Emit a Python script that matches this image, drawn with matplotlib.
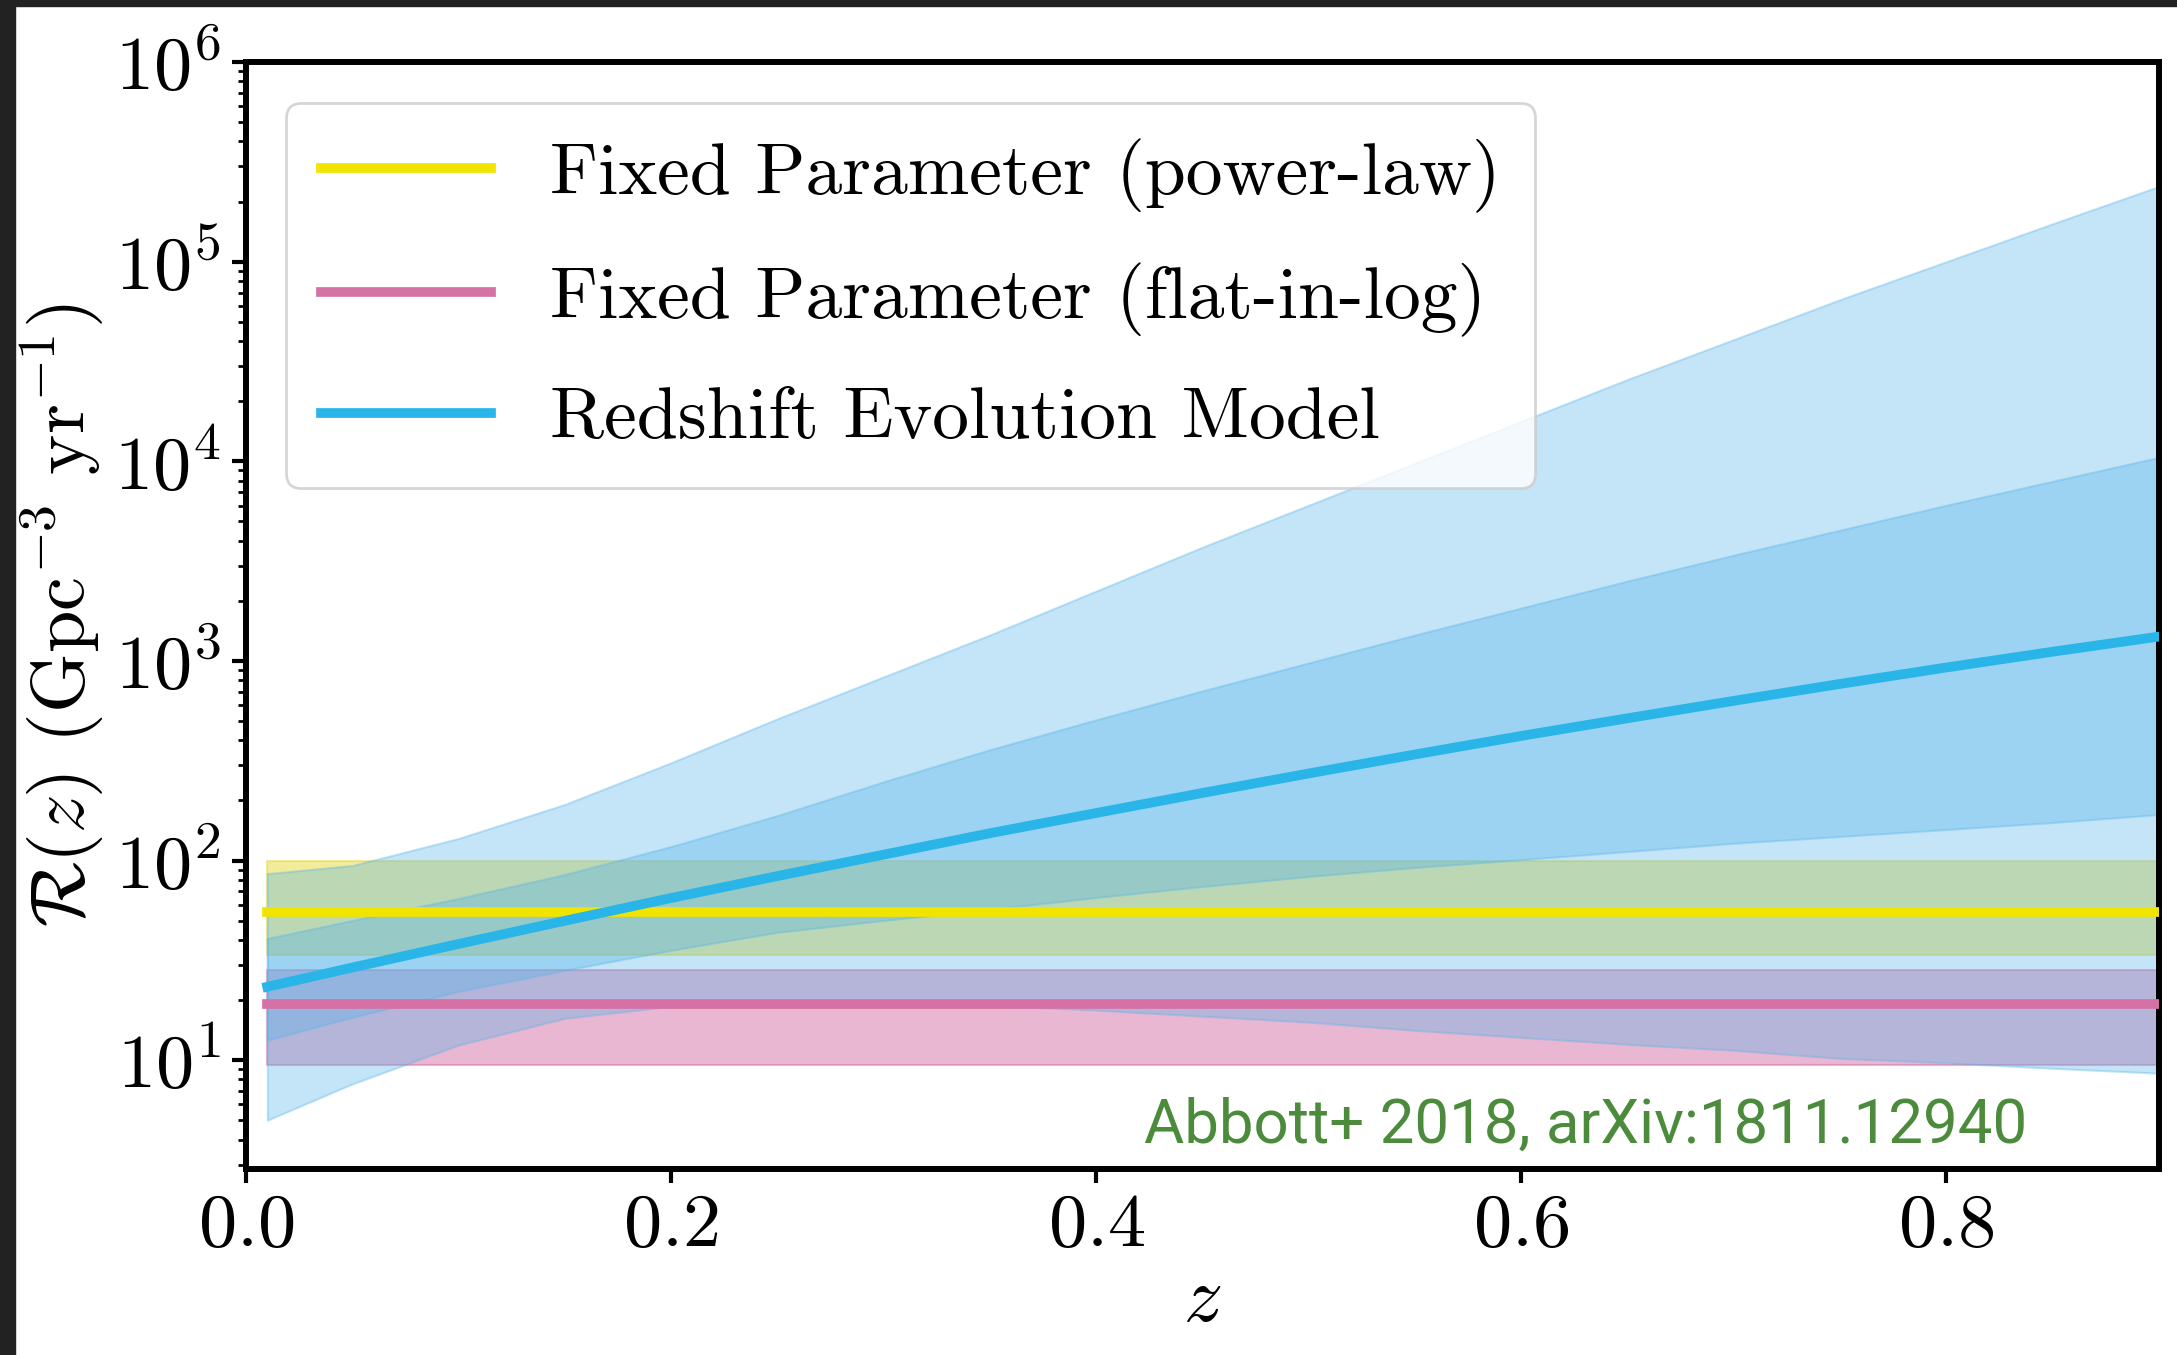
import numpy as np
import matplotlib
matplotlib.use("Agg")
import matplotlib.pyplot as plt
from matplotlib.patches import Rectangle

# redshift grid of the posterior bands
z = [0.01, 0.05, 0.10, 0.15, 0.20, 0.25, 0.30, 0.35, 0.40, 0.45,
     0.50, 0.55, 0.60, 0.65, 0.70, 0.75, 0.80, 0.85, 0.90]

# redshift evolution model: median, 50% and 90% bands (Gpc^-3 yr^-1)
rate_median = [23.3, 29.1, 38.2, 49.9, 64.9, 83.6, 107, 137, 173, 218,
               273, 340, 421, 516, 631, 767, 927, 1112, 1324]
rate_50_lo = [12.6, 16.4, 22.1, 28.2, 35.5, 43.7, 50.1, 56.9, 65.3, 74.1,
              83.2, 92.3, 101, 111, 122, 132, 143, 155, 170]
rate_50_hi = [40.7, 50.1, 64.6, 85.1, 117.5, 168, 248, 359, 507, 708,
              977, 1349, 1841, 2512, 3388, 4519, 6026, 7943, 10471]
rate_90_lo = [5.0, 7.6, 11.9, 16.2, 18.6, 19.3, 19.5, 18.8, 17.8, 16.6,
              15.5, 14.1, 13.0, 12.0, 11.2, 10.2, 9.7, 9.1, 8.6]
rate_90_hi = [86, 94.4, 129, 191, 309, 513, 832, 1349, 2239, 3715,
              6026, 9772, 15849, 25704, 40738, 64565, 100000, 154882, 238232]

# fixed-parameter rates: median, lower, upper
powerlaw_rate = [55, 33.7, 100]
flatlog_rate = [19, 9.5, 28.4]

labels = ["Fixed Parameter (power-law)",
          "Fixed Parameter (flat-in-log)",
          "Redshift Evolution Model"]

c_yellow = "#f0e400"
c_yellow_band = "#e7d935"
c_pink = "#d571a4"
c_blue_band = "#56b4e9"
c_blue = "#29b5e8"

plt.rcParams["font.family"] = "serif"
plt.rcParams["font.serif"] = ["cmr10"]
plt.rcParams["mathtext.fontset"] = "cm"
plt.rcParams["axes.formatter.use_mathtext"] = True

fig = plt.figure(figsize=(21.77, 13.55), dpi=100)
ax = fig.add_axes([0.1130, 0.1373, 0.8787, 0.8169])

zz = np.array(z)
ones = np.ones_like(zz)

ax.fill_between(zz, powerlaw_rate[1] * ones, powerlaw_rate[2] * ones,
                color=c_yellow_band, alpha=0.5, lw=1.5, zorder=1)
ax.fill_between(zz, flatlog_rate[1] * ones, flatlog_rate[2] * ones,
                color=c_pink, alpha=0.5, lw=1.5, zorder=1)
ax.fill_between(zz, rate_90_lo, rate_90_hi, color=c_blue_band, alpha=0.35,
                lw=1.5, zorder=2)
ax.fill_between(zz, rate_50_lo, rate_50_hi, color=c_blue_band, alpha=0.35,
                lw=1.5, zorder=2)

l1, = ax.plot(zz, powerlaw_rate[0] * ones, color=c_yellow, lw=7, zorder=3)
l2, = ax.plot(zz, flatlog_rate[0] * ones, color=c_pink, lw=7, zorder=3)
l3, = ax.plot(zz, rate_median, color=c_blue, lw=7, zorder=4)

ax.set_yscale("log")
ax.set_xlim(0, 0.9)
ax.set_ylim(2.85, 1e6)
ax.set_xticks([0.0, 0.2, 0.4, 0.6, 0.8])

for s in ax.spines.values():
    s.set_linewidth(4.3)
ax.tick_params(which="major", direction="out", length=10, width=3,
               labelsize=55, pad=8)
ax.tick_params(which="minor", direction="out", length=6, width=2)
ax.tick_params(axis="x", which="minor", bottom=False)

ax.set_xlabel(r"$z$", fontsize=56, labelpad=4)
ax.set_ylabel(r"$\mathcal{R}(z)$ (Gpc$^{-3}$ yr$^{-1}$)", fontsize=55,
              labelpad=6)

leg = ax.legend([l1, l2, l3], labels, loc="upper left",
                bbox_to_anchor=(0.0209, 0.963), borderaxespad=0,
                fontsize=53, handlelength=2.3, handletextpad=0.8,
                labelspacing=0.68, borderpad=0.48, fancybox=True,
                framealpha=0.8)
leg.get_frame().set_linewidth(2)
leg.get_frame().set_edgecolor("#cccccc")

ax.text(0.931, 0.024, "Abbott+ 2018, arXiv:1811.12940", transform=ax.transAxes,
        ha="right", va="baseline", fontsize=44.5, color="#4b8b3b",
        family="Roboto")

# dark frame strips along the top and left edges
fig.add_artist(Rectangle((0, 0), 15 / 2177, 1, transform=fig.transFigure,
                         color="#222222", zorder=10))
fig.add_artist(Rectangle((0, 1 - 6 / 1355), 1, 6 / 1355,
                         transform=fig.transFigure, color="#222222", zorder=10))

fig.savefig("out.png", dpi=100)
